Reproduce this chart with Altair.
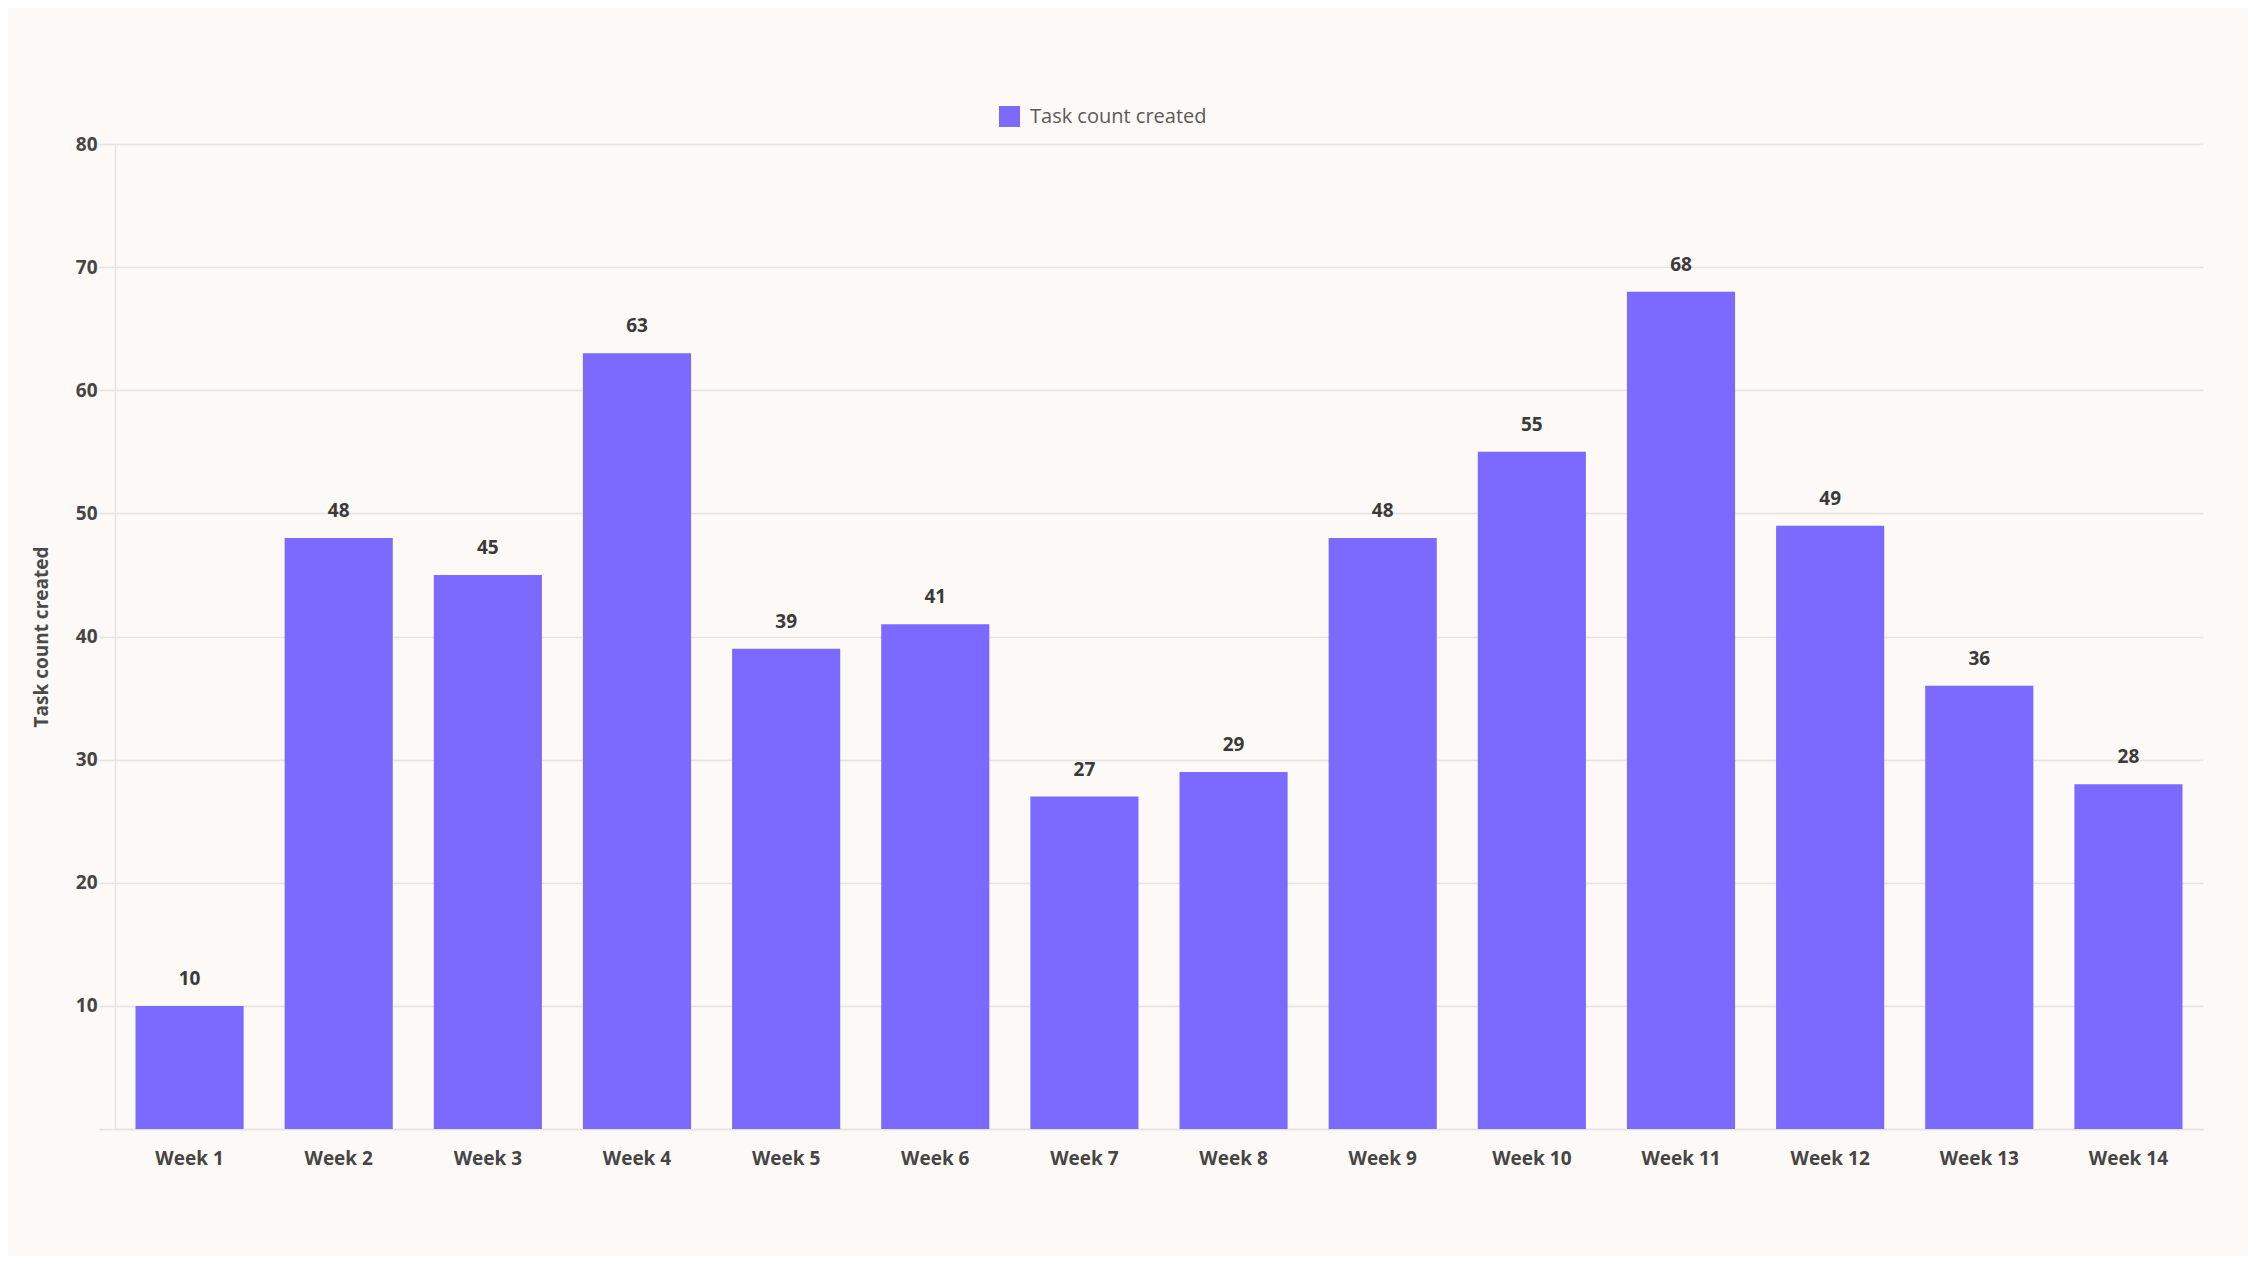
import altair as alt
import pandas as pd

weeks = ["Week 1", "Week 2", "Week 3", "Week 4", "Week 5", "Week 6", "Week 7",
         "Week 8", "Week 9", "Week 10", "Week 11", "Week 12", "Week 13", "Week 14"]
counts = [10, 48, 45, 63, 39, 41, 27, 29, 48, 55, 68, 49, 36, 28]
series = ["Task count created"] * len(weeks)

df = pd.DataFrame({"week": weeks, "count": counts, "series": series})

FONT = "Open Sans"
BAR = "#7B6AFD"
GRID = "#E6E2DE"

x = alt.X("week:N", sort=weeks, title=None,
          scale=alt.Scale(paddingInner=0.275),
          axis=alt.Axis(labelAngle=0, ticks=False, tickSize=0, labelPadding=20,
                        labelFont=FONT, labelFontSize=19, labelFontWeight="bold",
                        labelColor="#454545", domainColor=GRID, domainWidth=1.5,
                        grid=False))
y = alt.Y("count:Q", title="Task count created",
          scale=alt.Scale(domain=[0, 80], nice=False),
          axis=alt.Axis(values=[0, 10, 20, 30, 40, 50, 60, 70, 80],
                        labelExpr="datum.value == 0 ? '' : datum.label",
                        tickSize=16, tickColor=GRID, tickWidth=1.5,
                        labelPadding=2, labelFont=FONT, labelFontSize=19,
                        labelFontWeight="bold", labelColor="#454545",
                        domainColor=GRID, domainWidth=1.5,
                        gridColor=GRID, gridWidth=1.5,
                        titleFont=FONT, titleFontSize=19, titleFontWeight="bold",
                        titleColor="#4a4a4a", titlePadding=24))

bars = alt.Chart(df).mark_bar(color=BAR).encode(
    x=x, y=y,
    color=alt.Color("series:N", scale=alt.Scale(range=[BAR]),
                    legend=alt.Legend(title=None, orient="none", legendX=884, legendY=-38,
                                      symbolType="square", symbolSize=441,
                                      symbolStrokeWidth=0, labelLimit=0,
                                      labelFont=FONT, labelFontSize=20,
                                      labelColor="#5a5a5a", labelOffset=10)),
)

labels = alt.Chart(df).mark_text(dy=-21, baseline="alphabetic", font=FONT,
                                 fontSize=19, fontWeight="bold", color="#3a3a3a").encode(
    x=alt.X("week:N", sort=weeks),
    y=alt.Y("count:Q"),
    text=alt.Text("count:Q"),
)

chart = alt.layer(bars, labels).properties(
    width=2088, height=985,
    autosize=alt.AutoSizeParams(type="none"),
    padding={"left": 107, "top": 136, "right": 45, "bottom": 127},
    background="#FDF9F6",
).configure_view(stroke=None)

chart.save("out.html", embed_options={"renderer": "svg", "actions": False})
